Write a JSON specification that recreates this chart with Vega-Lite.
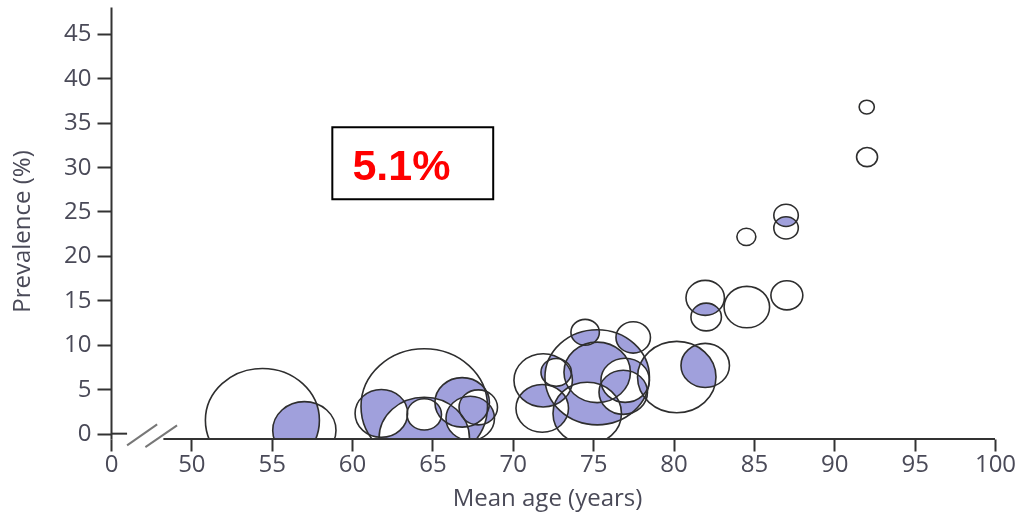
{
  "$schema": "https://vega.github.io/schema/vega-lite/v6.json",
  "width": 884,
  "height": 432,
  "autosize": {"type": "none"},
  "padding": {"left": 111, "top": 7, "right": 20, "bottom": 73},
  "background": "white",
  "config": {
    "view": {"stroke": null},
    "axis": {
      "grid": false,
      "labelFont": "Open Sans",
      "labelFontSize": 24,
      "labelColor": "#4a4a58",
      "labelFlush": false,
      "labelOverlap": false,
      "titleFont": "Open Sans",
      "titleFontSize": 24,
      "titleFontWeight": "normal",
      "titleColor": "#4a4a58",
      "domainColor": "#333333",
      "domainWidth": 2,
      "tickColor": "#333333",
      "tickWidth": 2
    }
  },
  "datasets": {
    "studies": [
      {"age": 54.42, "prev": 1.5, "n": 1300},
      {"age": 57.03, "prev": 0.37, "n": 400},
      {"age": 64.49, "prev": 3.07, "n": 1600},
      {"age": 61.82, "prev": 2.28, "n": 276},
      {"age": 64.49, "prev": 2.17, "n": 119},
      {"age": 64.49, "prev": -0.53, "n": 819},
      {"age": 66.85, "prev": 3.52, "n": 297},
      {"age": 67.35, "prev": 1.72, "n": 235},
      {"age": 67.85, "prev": 2.96, "n": 148},
      {"age": 75.25, "prev": 6.34, "n": 1092},
      {"age": 75.25, "prev": 6.9, "n": 442},
      {"age": 74.5, "prev": 11.4, "n": 81},
      {"age": 77.49, "prev": 10.83, "n": 119},
      {"age": 71.89, "prev": 6.0, "n": 342},
      {"age": 71.83, "prev": 2.85, "n": 276},
      {"age": 74.63, "prev": 2.28, "n": 469},
      {"age": 72.7, "prev": 6.9, "n": 93},
      {"age": 76.99, "prev": 6.0, "n": 235},
      {"age": 76.87, "prev": 4.65, "n": 235},
      {"age": 80.2, "prev": 6.37, "n": 616},
      {"age": 81.97, "prev": 7.68, "n": 235},
      {"age": 81.97, "prev": 15.28, "n": 148},
      {"age": 82.03, "prev": 13.12, "n": 93},
      {"age": 84.56, "prev": 14.24, "n": 207},
      {"age": 87.05, "prev": 15.56, "n": 102},
      {"age": 84.53, "prev": 22.14, "n": 36},
      {"age": 87.0, "prev": 24.56, "n": 60},
      {"age": 87.0, "prev": 23.15, "n": 60},
      {"age": 92.02, "prev": 36.74, "n": 23},
      {"age": 92.04, "prev": 31.12, "n": 44}
    ],
    "breaks": [
      {"x": 46.0, "y": -1.32, "x2": 47.87, "y2": 1.05},
      {"x": 47.14, "y": -1.51, "x2": 49.11, "y2": 0.93}
    ]
  },
  "layer": [
    {
      "data": {"values": [{}]},
      "mark": {"type": "rect", "fill": "white"},
      "encoding": {
        "x": {"datum": 45, "type": "quantitative"},
        "x2": {"datum": 100},
        "y": {"datum": -0.6, "type": "quantitative"},
        "y2": {"datum": 48}
      }
    },
    {
      "data": {"name": "studies"},
      "mark": {"type": "point", "shape": "M-1,0A1,0.91,0,1,1,1,0A1,0.91,0,1,1,-1,0Z", "filled": true, "fill": "black", "opacity": 1, "strokeWidth": 0},
      "encoding": {
        "x": {
          "field": "age", "type": "quantitative",
          "scale": {"domain": [45, 100], "nice": false, "zero": false},
          "axis": {
            "zindex": 1,
            "values": [45, 50, 55, 60, 65, 70, 75, 80, 85, 90, 95, 100],
            "labelExpr": "datum.value == 45 ? '0' : datum.label",
            "domain": false,
            "tickSize": 12,
            "labelPadding": 1,
            "title": "Mean age (years)",
            "titleX": 436,
            "titleY": 47
          }
        },
        "y": {
          "field": "prev", "type": "quantitative",
          "scale": {"domain": [-0.6, 48], "nice": false, "zero": false},
          "axis": {
            "zindex": 1,
            "values": [0, 5, 10, 15, 20, 25, 30, 35, 40, 45],
            "tickSize": 14,
            "labelPadding": 6,
            "title": "Prevalence (%)",
            "titleX": -89,
            "titleY": 224,
            "titleBaseline": "middle"
          }
        },
        "size": {"field": "n", "type": "quantitative", "scale": {"domain": [0, 1000], "range": [0, 10000]}, "legend": null}
      }
    },
    {
      "data": {"name": "studies"},
      "mark": {"type": "point", "shape": "M-1,0A1,0.91,0,1,1,1,0A1,0.91,0,1,1,-1,0Z", "filled": true, "fill": "white", "opacity": 1, "strokeWidth": 0, "blend": "difference"},
      "encoding": {
        "x": {"field": "age", "type": "quantitative"},
        "y": {"field": "prev", "type": "quantitative"},
        "size": {"field": "n", "type": "quantitative", "legend": null}
      }
    },
    {
      "data": {"values": [{}]},
      "mark": {"type": "rect", "fill": "#a0a0dc", "blend": "screen"},
      "encoding": {
        "x": {"datum": 45, "type": "quantitative"},
        "x2": {"datum": 100},
        "y": {"datum": -0.6, "type": "quantitative"},
        "y2": {"datum": 48}
      }
    },
    {
      "data": {"name": "studies"},
      "mark": {"type": "point", "shape": "M-1,0A1,0.91,0,1,1,1,0A1,0.91,0,1,1,-1,0Z", "filled": false, "stroke": "#2e2e2e", "strokeWidth": 1.6, "opacity": 1},
      "encoding": {
        "x": {"field": "age", "type": "quantitative"},
        "y": {"field": "prev", "type": "quantitative"},
        "size": {"field": "n", "type": "quantitative", "legend": null}
      }
    },
    {
      "data": {"values": [{}]},
      "mark": {"type": "rect", "fill": "white"},
      "encoding": {
        "x": {"datum": 44, "type": "quantitative"},
        "x2": {"datum": 101},
        "y": {"datum": -0.6, "type": "quantitative"},
        "y2": {"datum": -9}
      }
    },
    {
      "data": {"values": [{}]},
      "mark": {"type": "rule", "stroke": "#333333", "strokeWidth": 2},
      "encoding": {
        "x": {"datum": 48.26, "type": "quantitative"},
        "x2": {"datum": 100},
        "y": {"datum": -0.6, "type": "quantitative"}
      }
    },
    {
      "data": {"values": [{}]},
      "mark": {"type": "rule", "stroke": "#333333", "strokeWidth": 2},
      "encoding": {
        "x": {"datum": 45, "type": "quantitative"},
        "x2": {"datum": 46},
        "y": {"datum": 0, "type": "quantitative"}
      }
    },
    {
      "data": {"name": "breaks"},
      "mark": {"type": "rule", "stroke": "#777777", "strokeWidth": 2},
      "encoding": {
        "x": {"field": "x", "type": "quantitative"},
        "x2": {"field": "x2"},
        "y": {"field": "y", "type": "quantitative"},
        "y2": {"field": "y2"}
      }
    },
    {
      "data": {"values": [{}]},
      "mark": {"type": "rect", "fill": "white", "stroke": "black", "strokeWidth": 2},
      "encoding": {
        "x": {"datum": 58.77, "type": "quantitative"},
        "x2": {"datum": 68.78},
        "y": {"datum": 34.46, "type": "quantitative"},
        "y2": {"datum": 26.36}
      }
    },
    {
      "data": {"values": [{"label": "5.1%"}]},
      "mark": {"type": "text", "align": "left", "baseline": "alphabetic", "font": "Liberation Sans", "fontWeight": "bold", "fontSize": 43, "color": "#ff0000"},
      "encoding": {
        "x": {"datum": 60.02, "type": "quantitative"},
        "y": {"datum": 28.5, "type": "quantitative"},
        "text": {"field": "label"}
      }
    }
  ]
}
